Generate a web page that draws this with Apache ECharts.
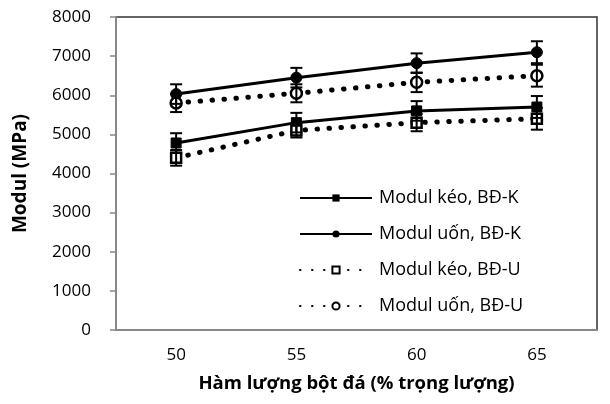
<!DOCTYPE html>
<html><head><meta charset="utf-8">
<script src="https://cdn.jsdelivr.net/npm/echarts@6/dist/echarts.min.js"></script>
<style>html,body{margin:0;padding:0;background:#fff}#c{width:610px;height:404px}</style>
</head><body><div id="c"></div>
<script>
const categories = ['50','55','60','65'];
const keoK = [4780, 5300, 5600, 5700];
const keoKErr = [250, 250, 250, 280];
const uonK = [6030, 6450, 6820, 7100];
const uonKErr = [250, 250, 250, 280];
const keoU = [4400, 5100, 5300, 5400];
const keoUErr = [200, 180, 220, 280];
const uonU = [5800, 6050, 6330, 6500];
const uonUErr = [230, 230, 250, 280];
const yTicks = [0,1000,2000,3000,4000,5000,6000,7000,8000];

const FONT = '"Open Sans", "Liberation Sans", sans-serif';
const chart = echarts.init(document.getElementById('c'));

function errSeries(vals, errs) {
  return {
    type: 'custom',
    silent: true,
    z: 5,
    data: vals.map((v, i) => [i, v - errs[i], v + errs[i]]),
    renderItem: function (params, api) {
      const lo = api.coord([api.value(0), api.value(1)]);
      const hi = api.coord([api.value(0), api.value(2)]);
      const hw = 6;
      const st = { stroke: '#000', lineWidth: 2 };
      return { type: 'group', children: [
        { type: 'line', shape: { x1: lo[0], y1: lo[1], x2: hi[0], y2: hi[1] }, style: st },
        { type: 'line', shape: { x1: lo[0]-hw, y1: lo[1], x2: lo[0]+hw, y2: lo[1] }, style: st },
        { type: 'line', shape: { x1: hi[0]-hw, y1: hi[1], x2: hi[0]+hw, y2: hi[1] }, style: st }
      ]};
    }
  };
}

const solid = { color: '#000', width: 3 };
const dotted = { color: '#000', width: 5, type: [0.5, 11.5], cap: 'round' };

chart.setOption({
  animation: false,
  textStyle: { fontFamily: FONT },
  grid: { left: 116, right: 13, top: 17, bottom: 74, show: true, borderColor: '#333', borderWidth: 1.5, backgroundColor: 'transparent' },
  xAxis: {
    type: 'category', data: categories, boundaryGap: true,
    axisLine: { lineStyle: { color: '#888', width: 2 } },
    axisTick: { show: false },
    axisLabel: { color: '#000', fontSize: 17, margin: 17, fontFamily: FONT },
    name: 'Hàm lượng bột đá (% trọng lượng)', nameLocation: 'middle', nameGap: 44,
    nameTextStyle: { color: '#000', fontSize: 18.5, fontWeight: 'bold', fontFamily: FONT }
  },
  yAxis: {
    type: 'value', min: 0, max: 8000, interval: 1000,
    axisLine: { show: true, lineStyle: { color: '#888', width: 2 } },
    axisTick: { show: true, length: 6, lineStyle: { color: '#888', width: 1.5 } },
    splitLine: { show: false },
    axisLabel: { color: '#000', fontSize: 17, margin: 25, fontFamily: FONT,
      formatter: v => yTicks.includes(v) ? String(v) : '' },
    name: 'Modul (MPa)', nameLocation: 'middle', nameGap: 86, nameRotate: 90,
    nameTextStyle: { color: '#000', fontSize: 19, fontWeight: 'bold', fontFamily: FONT }
  },
  legend: {
    orient: 'vertical', left: 294, top: 184, itemGap: 18, itemWidth: 72, itemHeight: 9,
    textStyle: { color: '#000', fontSize: 18, fontFamily: FONT, padding: [0, 0, 0, 2] },
    data: ['Modul kéo, BĐ-K', 'Modul uốn, BĐ-K', 'Modul kéo, BĐ-U', 'Modul uốn, BĐ-U']
  },
  series: [
    { name: 'Modul kéo, BĐ-K', type: 'line', data: keoK, symbol: 'rect', symbolSize: 10,
      lineStyle: solid, itemStyle: { color: '#000', borderColor: '#000' }, z: 3 },
    { name: 'Modul uốn, BĐ-K', type: 'line', data: uonK, symbol: 'circle', symbolSize: 11,
      lineStyle: solid, itemStyle: { color: '#000', borderColor: '#000' }, z: 3 },
    { name: 'Modul kéo, BĐ-U', type: 'line', data: keoU, symbol: 'rect', symbolSize: 10,
      lineStyle: dotted, itemStyle: { color: '#fff', borderColor: '#000', borderWidth: 2.5 }, z: 3 },
    { name: 'Modul uốn, BĐ-U', type: 'line', data: uonU, symbol: 'circle', symbolSize: 11,
      lineStyle: dotted, itemStyle: { color: '#fff', borderColor: '#000', borderWidth: 2.5 }, z: 3 },
    errSeries(keoK, keoKErr),
    errSeries(uonK, uonKErr),
    errSeries(keoU, keoUErr),
    errSeries(uonU, uonUErr)
  ]
});
</script></body></html>
